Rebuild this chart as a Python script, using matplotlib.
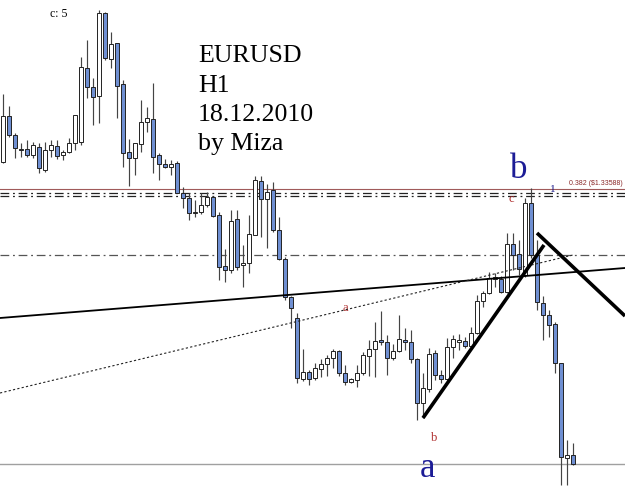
import matplotlib
matplotlib.use('Agg')
import matplotlib.pyplot as plt
import numpy as np

# ---- EURUSD H1 candles (bar index 0..95) ----
opens = [1.33720, 1.33950, 1.33855, 1.33785, 1.33785, 1.33755, 1.33795, 1.33680, 1.33780, 1.33800,
         1.33755, 1.33770, 1.33815, 1.33820, 1.34190, 1.34095, 1.34050, 1.34465, 1.34235, 1.34315,
         1.34110, 1.33770, 1.33740, 1.33810, 1.33920, 1.33935, 1.33755, 1.33710, 1.33695, 1.33715,
         1.33565, 1.33540, 1.33465, 1.33470, 1.33505, 1.33545, 1.33455, 1.33200, 1.33180, 1.33435,
         1.33205, 1.33215, 1.33355, 1.33625, 1.33535, 1.33580, 1.33380, 1.33235, 1.33045, 1.32940,
         1.32635, 1.32670, 1.32640, 1.32685, 1.32710, 1.32740, 1.32775, 1.32665, 1.32620, 1.32630,
         1.32665, 1.32750, 1.32785, 1.32830, 1.32820, 1.32740, 1.32775, 1.32830, 1.32820, 1.32735,
         1.32515, 1.32585, 1.32765, 1.32655, 1.32635, 1.32795, 1.32820, 1.32825, 1.32800, 1.32865,
         1.33025, 1.33065, 1.33135, 1.33135, 1.33070, 1.33310, 1.33260, 1.33155, 1.33515, 1.33255,
         1.33015, 1.32955, 1.32910, 1.32715, 1.32240, 1.32255]
highs = [1.34060, 1.34000, 1.33865, 1.33815, 1.33830, 1.33820, 1.33815, 1.33820, 1.33830, 1.33830,
         1.33780, 1.33840, 1.33955, 1.34245, 1.34330, 1.34140, 1.34480, 1.34470, 1.34370, 1.34315,
         1.34130, 1.33835, 1.33815, 1.34030, 1.33995, 1.34115, 1.33765, 1.33735, 1.33730, 1.33725,
         1.33595, 1.33565, 1.33530, 1.33565, 1.33570, 1.33550, 1.33470, 1.33285, 1.33480, 1.33480,
         1.33305, 1.33455, 1.33650, 1.33650, 1.33610, 1.33620, 1.33445, 1.33245, 1.33050, 1.32965,
         1.32785, 1.32680, 1.32715, 1.32735, 1.32755, 1.32785, 1.32780, 1.32705, 1.32640, 1.32705,
         1.32770, 1.32830, 1.32920, 1.32975, 1.32855, 1.32810, 1.32955, 1.32890, 1.32880, 1.32740,
         1.32665, 1.32790, 1.32780, 1.32680, 1.32840, 1.32855, 1.32860, 1.32845, 1.32895, 1.33055,
         1.33075, 1.33170, 1.33165, 1.33150, 1.33365, 1.33365, 1.33330, 1.33540, 1.33590, 1.33330,
         1.33050, 1.32980, 1.32920, 1.32715, 1.32330, 1.32315]
lows = [1.33715, 1.33845, 1.33740, 1.33745, 1.33745, 1.33740, 1.33665, 1.33670, 1.33745, 1.33735,
        1.33730, 1.33765, 1.33780, 1.33805, 1.34040, 1.33905, 1.33915, 1.34230, 1.34190, 1.33940,
        1.33695, 1.33600, 1.33655, 1.33770, 1.33870, 1.33665, 1.33630, 1.33690, 1.33655, 1.33565,
        1.33490, 1.33430, 1.33445, 1.33460, 1.33495, 1.33445, 1.33130, 1.33120, 1.33165, 1.33180,
        1.33095, 1.33165, 1.33355, 1.33345, 1.33290, 1.33370, 1.33230, 1.33030, 1.32890, 1.32615,
        1.32625, 1.32605, 1.32630, 1.32645, 1.32650, 1.32690, 1.32650, 1.32605, 1.32615, 1.32595,
        1.32655, 1.32650, 1.32645, 1.32805, 1.32655, 1.32730, 1.32770, 1.32780, 1.32715, 1.32430,
        1.32440, 1.32570, 1.32630, 1.32615, 1.32630, 1.32740, 1.32780, 1.32790, 1.32795, 1.32860,
        1.32995, 1.33060, 1.33095, 1.33065, 1.33065, 1.33180, 1.33155, 1.33145, 1.33240, 1.32980,
        1.32830, 1.32845, 1.32665, 1.32105, 1.32105, 1.32205]
closes = [1.33950, 1.33855, 1.33790, 1.33780, 1.33755, 1.33805, 1.33690, 1.33780, 1.33805, 1.33750,
          1.33770, 1.33815, 1.33955, 1.34195, 1.34095, 1.34045, 1.34465, 1.34240, 1.34310, 1.34100,
          1.33765, 1.33740, 1.33815, 1.33920, 1.33940, 1.33745, 1.33710, 1.33695, 1.33710, 1.33565,
          1.33540, 1.33465, 1.33470, 1.33505, 1.33545, 1.33450, 1.33195, 1.33180, 1.33425, 1.33195,
          1.33215, 1.33360, 1.33630, 1.33535, 1.33570, 1.33380, 1.33235, 1.33045, 1.32990, 1.32640,
          1.32670, 1.32635, 1.32690, 1.32710, 1.32740, 1.32775, 1.32665, 1.32620, 1.32635, 1.32665,
          1.32755, 1.32785, 1.32825, 1.32820, 1.32740, 1.32775, 1.32835, 1.32820, 1.32735, 1.32515,
          1.32590, 1.32760, 1.32655, 1.32635, 1.32795, 1.32835, 1.32830, 1.32800, 1.32865, 1.33025,
          1.33065, 1.33140, 1.33145, 1.33070, 1.33310, 1.33255, 1.33185, 1.33515, 1.33255, 1.33020,
          1.32955, 1.32905, 1.32715, 1.32245, 1.32255, 1.32210]

# ---- horizontal levels (price) ----
fib_level = 1.33585
dashdot_levels = [1.33565, 1.33550]
mid_level = 1.33255
bottom_level = 1.32210

# ---- trend lines: (bar index, price) anchors ----
trend_solid = [(-0.5, 1.32940), (103.67, 1.33190)]
trend_dotted = [(-0.5, 1.32565), (95.0, 1.33255)]
trend_up = [(70.0, 1.32440), (90.17, 1.33305)]
trend_down = [(89.0, 1.33365), (103.67, 1.32950)]

title_lines = ["EURUSD", "H1", "18.12.2010", "by Miza"]
fib_label = "0.382 ($1.33588)"

plt.rcParams['font.family'] = ['Liberation Serif', 'DejaVu Serif']

fig = plt.figure(figsize=(6.25, 4.87), dpi=100)
ax = fig.add_axes([0, 0, 1, 1])
ax.set_xlim(-0.5, 103.67)
ax.set_ylim(1.32095, 1.34530)
ax.axis('off')

o = np.array(opens); h = np.array(highs); l = np.array(lows); c = np.array(closes)
x = np.arange(len(o))
up = c >= o

# levels
ax.axhline(bottom_level, color='#a0a0a0', lw=1.0, zorder=1)
ax.axhline(mid_level, color='#555555', lw=0.9, ls=(0, (7, 3, 1.5, 3)), zorder=1)
for lv in dashdot_levels:
    ax.axhline(lv, color='#222222', lw=0.9, ls=(0, (7, 3, 1.5, 3)), zorder=1)
ax.axhline(fib_level, color='#a05a5a', lw=0.8, zorder=1)

# wicks
ax.vlines(x, l, h, color='#444444', lw=0.85, zorder=2)
# bodies
bottoms = np.minimum(o, c)
heights = np.maximum(np.abs(c - o), 0.00004)
colors = np.where(up, 'white', '#6f8fd2')
ax.bar(x, heights, bottom=bottoms, width=0.62, color=colors,
       edgecolor='#222222', linewidth=0.7, zorder=3)

# trend lines
def line(pts, **kw):
    xs, ys = zip(*pts)
    ax.plot(xs, ys, **kw)

line(trend_solid, color='black', lw=1.3, zorder=4)
line(trend_dotted, color='#222222', lw=0.8, ls=(0, (2, 2)), zorder=4)
line(trend_up, color='black', lw=2.6, zorder=5, solid_capstyle='butt')
line(trend_down, color='black', lw=2.6, zorder=5, solid_capstyle='butt')

# title block
title_y = [1.34220, 1.34070, 1.33925, 1.33780]
for t, yy in zip(title_lines, title_y):
    ax.text(32.5, yy, t, fontsize=18.6, color='black', va='baseline', ha='left')

ax.text(7.8, 1.34460, "c: 5", fontsize=8.5, va='center', ha='left')
ax.text(103.3, 1.33612, fib_label, fontsize=5, color='#8b2a2a', ha='right', va='center',
        family=['Liberation Sans', 'DejaVu Sans'])
ax.text(91.6, 1.33582, "1", fontsize=8, color='#1a1a8a', ha='center', va='center')

# wave labels
ax.text(86.0, 1.33640, "b", fontsize=25, color='#1c1c96', ha='center', va='baseline')
ax.text(70.67, 1.32145, "a", fontsize=25, color='#1c1c96', ha='center', va='baseline')
ax.text(84.8, 1.33535, "c", fontsize=9, color='#b03030', ha='center', va='center')
ax.text(57.0, 1.32990, "a", fontsize=9, color='#b03030', ha='center', va='center')
ax.text(71.8, 1.32340, "b", fontsize=9, color='#b03030', ha='center', va='center')

fig.savefig('out.png', dpi=100, facecolor='white')
